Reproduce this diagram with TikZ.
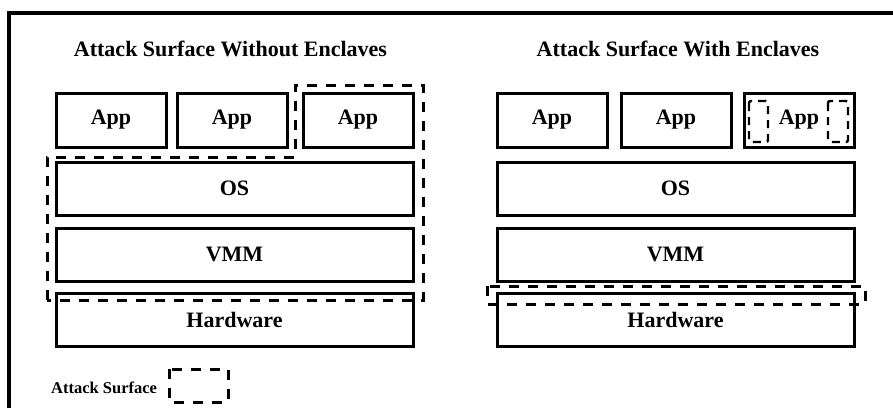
\documentclass[tikz,border=0pt]{standalone}
\usepackage{fontspec}
\setmainfont{Liberation Serif}
\begin{document}
\begin{tikzpicture}[x=1pt,y=-1pt,
  layerbox/.style={draw=black,line width=3pt,rectangle,inner sep=0pt,
    font=\fontsize{22}{24}\selectfont\bfseries},
  surf/.style={draw=black,line width=3pt,dash pattern=on 10pt off 9pt},
  smallsurf/.style={draw=black,line width=2.4pt,dash pattern=on 8pt off 6pt,rounded corners=2pt},
  title/.style={font=\fontsize{22}{24}\selectfont\bfseries,inner sep=0pt,anchor=base}]
\useasboundingbox (0,0) rectangle (893,408);
% outer frame (cut by the page edges)
\draw[line width=3.2pt] (9,408) -- (9,13) -- (893,13);
% titles
\node[title] (t1) at (230.5,56) {Attack Surface Without Enclaves};
\node[title] (t2) at (678,56) {Attack Surface With Enclaves};
% left stack
\node[layerbox,minimum width=110pt,minimum height=54pt] (la1) at (111,120) {App};
\node[layerbox,minimum width=110pt,minimum height=54pt] (la2) at (232,120) {App};
\node[layerbox,minimum width=110pt,minimum height=54pt] (la3) at (358,120) {App};
\node[layerbox,minimum width=357pt,minimum height=53pt] (los) at (234.5,188.5) {OS};
\node[layerbox,minimum width=357pt,minimum height=53pt] (lvmm) at (234.5,254.5) {VMM};
\node[layerbox,minimum width=357pt,minimum height=53pt] (lhw) at (234.5,319.5) {Hardware};
% right stack
\node[layerbox,minimum width=110pt,minimum height=54pt] (ra1) at (552,120) {App};
\node[layerbox,minimum width=110pt,minimum height=54pt] (ra2) at (676,120) {App};
\node[layerbox,minimum width=110pt,minimum height=54pt] (ra3) at (799,120) {App};
\node[layerbox,minimum width=357pt,minimum height=53pt] (ros) at (675.5,188.5) {OS};
\node[layerbox,minimum width=357pt,minimum height=53pt] (rvmm) at (675.5,254.5) {VMM};
\node[layerbox,minimum width=357pt,minimum height=53pt] (rhw) at (675.5,319.5) {Hardware};
% attack surface without enclaves
\draw[surf] (47,300) -- (47,157) -- (295,157) -- (295,85) -- (423,85) -- (423,300) -- cycle;
% attack surface with enclaves
\draw[surf] (487,286) rectangle (865,304);
\draw[smallsurf] (749,101) rectangle (768,142);
\draw[smallsurf] (828,101) rectangle (848,142);
% legend
\node[font=\fontsize{16.5}{18}\selectfont\bfseries,inner sep=0pt,anchor=base west] (leg) at (51,393) {Attack Surface};
\draw[surf] (169,369) rectangle (228,402);
\end{tikzpicture}
\end{document}
